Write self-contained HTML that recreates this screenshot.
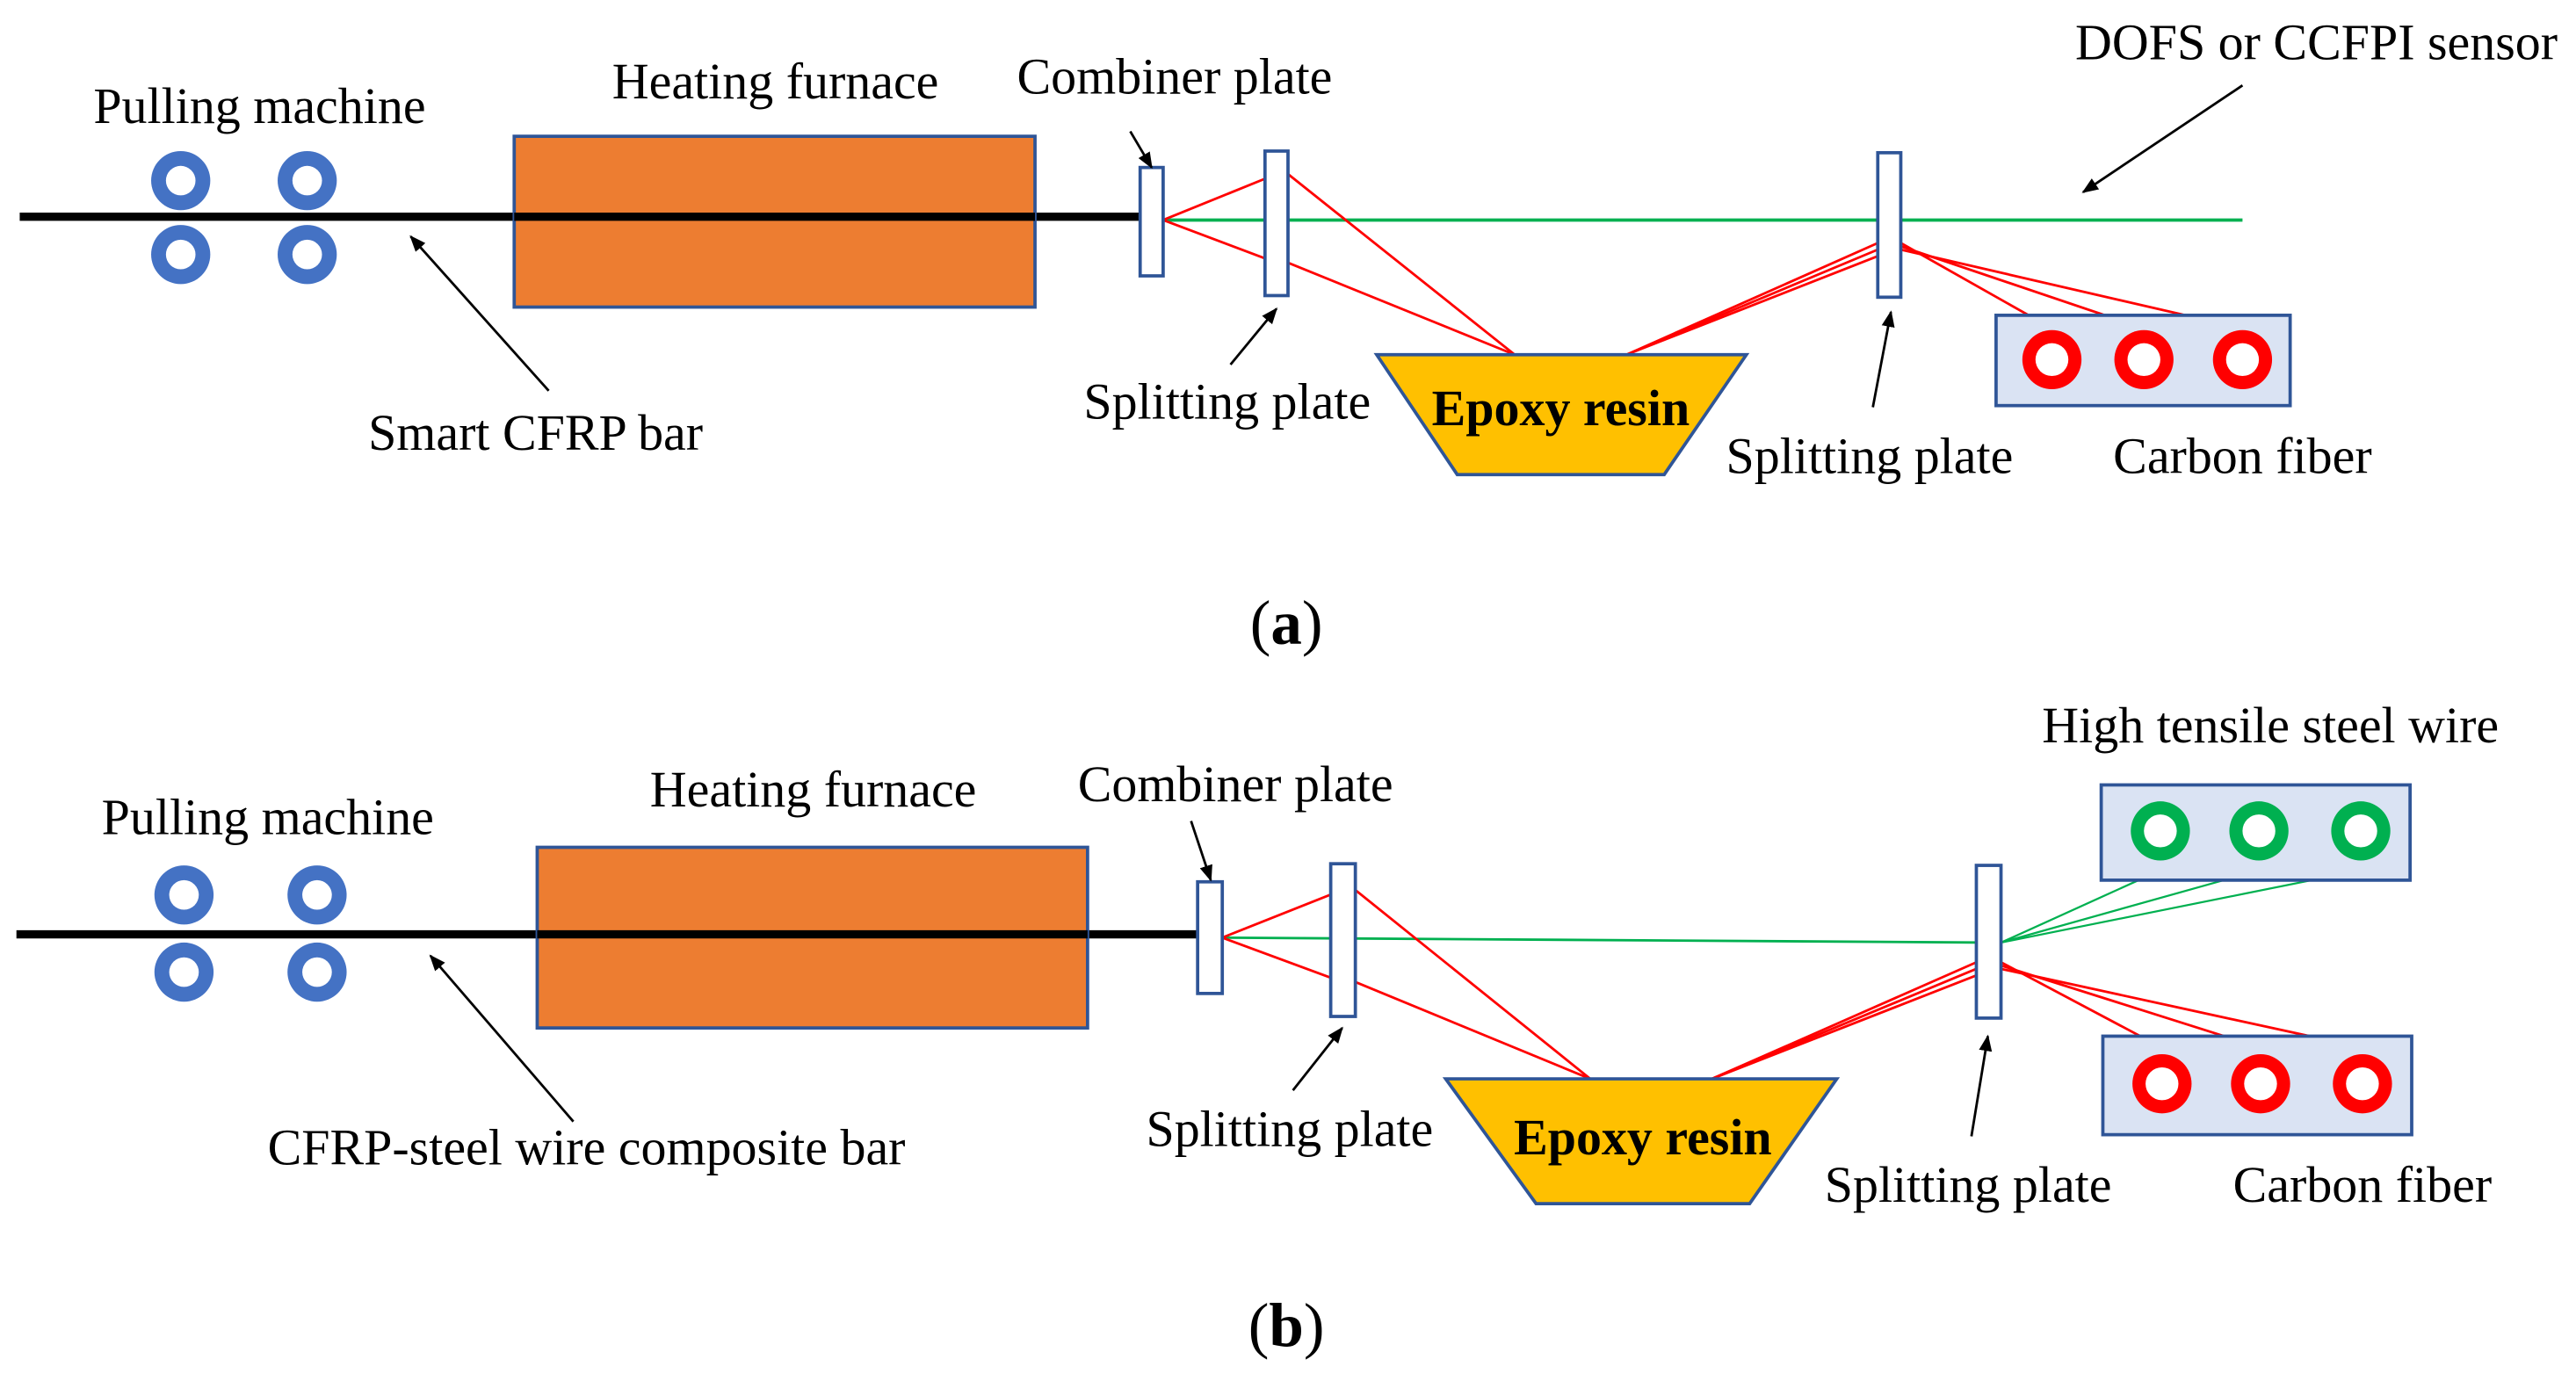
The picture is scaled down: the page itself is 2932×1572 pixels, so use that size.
<!DOCTYPE html>
<html><head><meta charset="utf-8"><style>html,body{margin:0;padding:0;background:#fff}svg{display:block}</style></head><body>
<svg width="2932" height="1572" viewBox="0 0 1568 841" preserveAspectRatio="none" xmlns="http://www.w3.org/2000/svg" font-family="'Liberation Serif', serif" font-size="31" text-anchor="middle">
<defs><marker id="ar" markerWidth="10" markerHeight="10" refX="9" refY="5" orient="auto" markerUnits="userSpaceOnUse"><path d="M0,1 L10,5 L0,9 z" fill="#000"/></marker></defs>
<!-- (a) -->
<line x1="12" y1="132" x2="695" y2="132" stroke="#000" stroke-width="5"/>
<rect x="313" y="83" width="317" height="104" fill="#ED7D31" stroke="#2F5597" stroke-width="2"/>
<line x1="313" y1="132" x2="630" y2="132" stroke="#000" stroke-width="5"/>
<g fill="#4472C4"><circle cx="110" cy="110" r="18"/><circle cx="187" cy="110" r="18"/><circle cx="110" cy="155" r="18"/><circle cx="187" cy="155" r="18"/></g>
<g fill="#fff"><circle cx="110" cy="110" r="9"/><circle cx="187" cy="110" r="9"/><circle cx="110" cy="155" r="9"/><circle cx="187" cy="155" r="9"/></g>
<line x1="708" y1="134" x2="1365" y2="134" stroke="#00B050" stroke-width="2"/>
<g stroke="#FF0000" stroke-width="1.5">
<line x1="708" y1="134" x2="777" y2="106"/><line x1="708" y1="134" x2="777" y2="160"/>
<line x1="784" y1="106" x2="922" y2="216"/><line x1="784" y1="160" x2="922" y2="216"/>
<line x1="990" y1="216" x2="1143" y2="148"/><line x1="990" y1="216" x2="1143" y2="152"/><line x1="990" y1="216" x2="1143" y2="156"/>
<line x1="1157" y1="148" x2="1249" y2="200"/><line x1="1157" y1="150" x2="1305" y2="200"/><line x1="1157" y1="152" x2="1365" y2="200"/>
</g>
<rect x="694" y="102" width="14" height="66" fill="#fff" stroke="#2F5597" stroke-width="2"/>
<rect x="770" y="92" width="14" height="88" fill="#fff" stroke="#2F5597" stroke-width="2"/>
<rect x="1143" y="93" width="14" height="88" fill="#fff" stroke="#2F5597" stroke-width="2"/>
<polygon points="838,216 1063,216 1013,289 887,289" fill="#FFC000" stroke="#2F5597" stroke-width="2"/>
<rect x="1215" y="192" width="179" height="55" fill="#DAE3F3" stroke="#2F5597" stroke-width="2"/>
<g fill="#FF0000"><circle cx="1249" cy="219" r="18"/><circle cx="1305" cy="219" r="18"/><circle cx="1365" cy="219" r="18"/></g>
<g fill="#fff"><circle cx="1249" cy="219" r="10"/><circle cx="1305" cy="219" r="10"/><circle cx="1365" cy="219" r="10"/></g>
<g stroke="#000" stroke-width="1.5" marker-end="url(#ar)">
<line x1="1365" y1="52" x2="1268" y2="117"/><line x1="334" y1="238" x2="250" y2="144"/>
<line x1="688" y1="80" x2="701" y2="102"/><line x1="749" y1="222" x2="777" y2="188"/>
<line x1="1140" y1="248" x2="1151" y2="190"/>
</g>
<text x="158" y="75">Pulling machine</text>
<text x="472" y="60">Heating furnace</text>
<text x="715" y="57">Combiner plate</text>
<text x="1410" y="36">DOFS or CCFPI sensor</text>
<text x="326" y="274">Smart CFRP bar</text>
<text x="747" y="255">Splitting plate</text>
<text x="950" y="259" font-weight="bold">Epoxy resin</text>
<text x="1138" y="288">Splitting plate</text>
<text x="1365" y="288">Carbon fiber</text>
<text x="783" y="392" font-size="38">(<tspan font-weight="bold">a</tspan>)</text>
<!-- (b) -->
<line x1="10" y1="569" x2="730" y2="569" stroke="#000" stroke-width="5"/>
<rect x="327" y="516" width="335" height="110" fill="#ED7D31" stroke="#2F5597" stroke-width="2"/>
<line x1="327" y1="569" x2="662" y2="569" stroke="#000" stroke-width="5"/>
<g fill="#4472C4"><circle cx="112" cy="545" r="18"/><circle cx="193" cy="545" r="18"/><circle cx="112" cy="592" r="18"/><circle cx="193" cy="592" r="18"/></g>
<g fill="#fff"><circle cx="112" cy="545" r="9"/><circle cx="193" cy="545" r="9"/><circle cx="112" cy="592" r="9"/><circle cx="193" cy="592" r="9"/></g>
<line x1="744" y1="571" x2="1210" y2="574" stroke="#00B050" stroke-width="1.5"/>
<g stroke="#00B050" stroke-width="1.2">
<line x1="1218" y1="574" x2="1315" y2="530"/><line x1="1218" y1="574" x2="1375" y2="530"/><line x1="1218" y1="574" x2="1437" y2="530"/>
</g>
<g stroke="#FF0000" stroke-width="1.5">
<line x1="744" y1="571" x2="817" y2="542"/><line x1="744" y1="571" x2="817" y2="598"/>
<line x1="825" y1="542" x2="968" y2="657"/><line x1="825" y1="598" x2="968" y2="657"/>
<line x1="1042" y1="657" x2="1203" y2="586"/><line x1="1042" y1="657" x2="1203" y2="590"/><line x1="1042" y1="657" x2="1203" y2="594"/>
<line x1="1218" y1="586" x2="1316" y2="638"/><line x1="1218" y1="588" x2="1376" y2="638"/><line x1="1218" y1="590" x2="1438" y2="638"/>
</g>
<rect x="729" y="537" width="15" height="68" fill="#fff" stroke="#2F5597" stroke-width="2"/>
<rect x="810" y="526" width="15" height="93" fill="#fff" stroke="#2F5597" stroke-width="2"/>
<rect x="1203" y="527" width="15" height="93" fill="#fff" stroke="#2F5597" stroke-width="2"/>
<polygon points="880,657 1118,657 1065,733 935,733" fill="#FFC000" stroke="#2F5597" stroke-width="2"/>
<rect x="1279" y="478" width="188" height="58" fill="#DAE3F3" stroke="#2F5597" stroke-width="2"/>
<g fill="#00B050"><circle cx="1315" cy="506" r="18"/><circle cx="1375" cy="506" r="18"/><circle cx="1437" cy="506" r="18"/></g>
<g fill="#fff"><circle cx="1315" cy="506" r="10"/><circle cx="1375" cy="506" r="10"/><circle cx="1437" cy="506" r="10"/></g>
<rect x="1280" y="631" width="188" height="60" fill="#DAE3F3" stroke="#2F5597" stroke-width="2"/>
<g fill="#FF0000"><circle cx="1316" cy="660" r="18"/><circle cx="1376" cy="660" r="18"/><circle cx="1438" cy="660" r="18"/></g>
<g fill="#fff"><circle cx="1316" cy="660" r="10"/><circle cx="1376" cy="660" r="10"/><circle cx="1438" cy="660" r="10"/></g>
<g stroke="#000" stroke-width="1.5" marker-end="url(#ar)">
<line x1="349" y1="683" x2="262" y2="582"/><line x1="725" y1="500" x2="737" y2="536"/>
<line x1="787" y1="664" x2="817" y2="626"/><line x1="1200" y1="692" x2="1210" y2="631"/>
</g>
<text x="1382" y="452">High tensile steel wire</text>
<text x="163" y="508">Pulling machine</text>
<text x="495" y="491">Heating furnace</text>
<text x="752" y="488">Combiner plate</text>
<text x="357" y="709">CFRP-steel wire composite bar</text>
<text x="785" y="698">Splitting plate</text>
<text x="1000" y="703" font-weight="bold">Epoxy resin</text>
<text x="1198" y="732">Splitting plate</text>
<text x="1438" y="732">Carbon fiber</text>
<text x="783" y="820" font-size="38">(<tspan font-weight="bold">b</tspan>)</text>
</svg>
</body></html>
